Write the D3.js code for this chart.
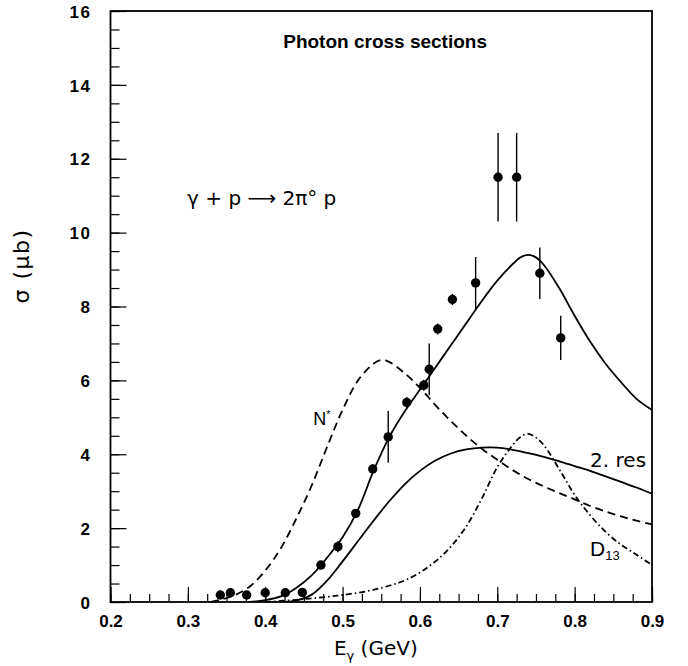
<!DOCTYPE html>
<html>
<head>
<meta charset="utf-8">
<script src="https://cdn.jsdelivr.net/npm/d3@7"></script>
<style>
  body { margin: 0; background: #fff; }
  svg { display: block; }
  .tick-lbl { font-family: "Liberation Sans", Arial, sans-serif; font-weight: bold; font-size: 17px; }
</style>
</head>
<body>
<svg id="chart" width="688" height="666"></svg>
<script>
// measured points (E in GeV, sigma in microbarn)
var dataE = [0.342, 0.355, 0.376, 0.400, 0.426, 0.448, 0.472, 0.494, 0.517, 0.539, 0.559,
             0.583, 0.605, 0.612, 0.623, 0.642, 0.672, 0.701, 0.725, 0.755, 0.782];
var dataSigma = [0.19, 0.25, 0.19, 0.25, 0.25, 0.26, 1.0, 1.5, 2.4, 3.6, 4.47,
                 5.4, 5.87, 6.3, 7.39, 8.19, 8.64, 11.5, 11.5, 8.9, 7.15];
var dataErr = [0.08, 0.08, 0.08, 0.08, 0.08, 0.08, 0.1, 0.15, 0.12, 0.12, 0.7,
               0.15, 0.15, 0.7, 0.15, 0.15, 0.7, 1.2, 1.2, 0.7, 0.6];

// model curves
var totalE = [0.38, 0.40, 0.42, 0.44, 0.46, 0.48, 0.50, 0.52, 0.54, 0.56, 0.58, 0.60, 0.62, 0.64,
              0.66, 0.68, 0.70, 0.72, 0.73, 0.74, 0.75, 0.76, 0.78, 0.80, 0.82, 0.84, 0.86, 0.88, 0.90];
var totalSigma = [0.0, 0.05, 0.15, 0.38, 0.72, 1.2, 1.75, 2.5, 3.55, 4.45, 5.15, 5.75, 6.35, 6.95,
                  7.55, 8.15, 8.7, 9.15, 9.33, 9.4, 9.33, 9.13, 8.5, 7.75, 7.05, 6.45, 5.95, 5.5, 5.2];

var nstarE = [0.33, 0.34, 0.36, 0.38, 0.40, 0.42, 0.44, 0.46, 0.48, 0.50, 0.52, 0.54, 0.55, 0.56,
              0.58, 0.60, 0.62, 0.64, 0.66, 0.68, 0.70, 0.72, 0.74, 0.76, 0.78, 0.80, 0.82,
              0.84, 0.86, 0.88, 0.90];
var nstarSigma = [0.0, 0.05, 0.18, 0.42, 0.85, 1.45, 2.25, 3.15, 4.2, 5.2, 6.0, 6.45, 6.55, 6.5,
                  6.2, 5.8, 5.33, 4.9, 4.5, 4.15, 3.85, 3.57, 3.33, 3.13, 2.95, 2.78, 2.6,
                  2.45, 2.32, 2.2, 2.1];

var resE = [0.42, 0.44, 0.46, 0.48, 0.50, 0.52, 0.54, 0.56, 0.58, 0.60, 0.62, 0.64, 0.66,
            0.68, 0.70, 0.72, 0.74, 0.76, 0.78, 0.80, 0.82, 0.84, 0.86, 0.88, 0.90];
var resSigma = [0.0, 0.04, 0.2, 0.58, 1.1, 1.65, 2.2, 2.72, 3.18, 3.55, 3.83, 4.02, 4.13,
                4.18, 4.18, 4.12, 4.03, 3.93, 3.81, 3.68, 3.55, 3.4, 3.25, 3.1, 2.93];

var d13E = [0.40, 0.44, 0.48, 0.50, 0.52, 0.54, 0.56, 0.58, 0.60, 0.62, 0.64, 0.66, 0.68,
            0.70, 0.72, 0.73, 0.74, 0.75, 0.76, 0.78, 0.80, 0.82, 0.84, 0.86, 0.88, 0.90];
var d13Sigma = [0.0, 0.06, 0.14, 0.19, 0.25, 0.33, 0.44, 0.58, 0.8, 1.1, 1.5, 2.05, 2.8,
                3.65, 4.25, 4.47, 4.55, 4.45, 4.25, 3.6, 2.9, 2.35, 1.9, 1.55, 1.28, 1.0];

var xTicks = [0.2, 0.3, 0.4, 0.5, 0.6, 0.7, 0.8, 0.9];
var yTicks = [0, 2, 4, 6, 8, 10, 12, 14, 16];

var svg = d3.select("#chart");
var plotL = 110.5, plotR = 652, plotT = 11, plotB = 602;

var x = d3.scaleLinear().domain([0.2, 0.9]).range([plotL, plotR]);
var y = d3.scaleLinear().domain([0, 16]).range([plotB, plotT]);

svg.append("clipPath").attr("id", "clip")
    .append("rect").attr("x", plotL).attr("y", plotT)
    .attr("width", plotR - plotL).attr("height", plotB - plotT);

// minor ticks
var xMinor = d3.range(0, 29).map(function (i) { return 0.2 + i * 0.025; });
var yMinor = d3.range(0, 33).map(function (i) { return i * 0.5; });

var xAxis = d3.axisBottom(x).tickValues(xTicks).tickSize(-15).tickPadding(0).tickFormat(d3.format(".1f"));
var yAxis = d3.axisLeft(y).tickValues(yTicks).tickSize(-16).tickPadding(0).tickFormat(d3.format("d"));

svg.append("g").attr("transform", "translate(0," + plotB + ")")
    .call(d3.axisBottom(x).tickValues(xMinor).tickSize(-8).tickFormat(""))
    .call(function (g) { g.select(".domain").remove(); g.selectAll("line").attr("stroke-width", 1.2); });
svg.append("g").attr("transform", "translate(" + plotL + ",0)")
    .call(d3.axisLeft(y).tickValues(yMinor).tickSize(-9).tickFormat(""))
    .call(function (g) { g.select(".domain").remove(); g.selectAll("line").attr("stroke-width", 1.2); });

var gx = svg.append("g").attr("transform", "translate(0," + plotB + ")").call(xAxis);
gx.select(".domain").remove();
gx.selectAll("line").attr("stroke-width", 1.2);
gx.selectAll("text").attr("class", "tick-lbl").attr("fill", "#000").attr("y", 24.5).attr("dy", 0);

var gy = svg.append("g").attr("transform", "translate(" + plotL + ",0)").call(yAxis);
gy.select(".domain").remove();
gy.selectAll("line").attr("stroke-width", 1.2);
gy.selectAll("text").attr("class", "tick-lbl").attr("fill", "#000")
    .attr("x", -19).attr("dy", "0.36em").style("letter-spacing", "1.5px");

// frame
svg.append("rect").attr("x", plotL).attr("y", plotT)
    .attr("width", plotR - plotL).attr("height", plotB - plotT)
    .attr("fill", "none").attr("stroke", "#000").attr("stroke-width", 1.8);

// curves
var line = d3.line()
    .x(function (d) { return x(d[0]); })
    .y(function (d) { return y(d[1]); })
    .curve(d3.curveCatmullRom.alpha(0.5));

var curves = [
    { e: totalE, s: totalSigma, dash: null },
    { e: nstarE, s: nstarSigma, dash: "8,5" },
    { e: resE, s: resSigma, dash: null },
    { e: d13E, s: d13Sigma, dash: "6,3,1.5,3" }
];
var gc = svg.append("g").attr("clip-path", "url(#clip)");
curves.forEach(function (c) {
    var pts = c.e.map(function (e, i) { return [e, c.s[i]]; });
    gc.append("path").datum(pts)
        .attr("d", line)
        .attr("fill", "none")
        .attr("stroke", "#000")
        .attr("stroke-width", 1.8)
        .attr("stroke-dasharray", c.dash);
});

// data points with error bars
var pts = dataE.map(function (e, i) { return { e: e, s: dataSigma[i], err: dataErr[i] }; });
svg.append("g").selectAll("line").data(pts).enter()
    .append("line")
    .attr("x1", function (d) { return x(d.e); })
    .attr("x2", function (d) { return x(d.e); })
    .attr("y1", function (d) { return y(d.s - d.err); })
    .attr("y2", function (d) { return y(d.s + d.err); })
    .attr("stroke", "#000").attr("stroke-width", 1.4);
svg.append("g").selectAll("circle").data(pts).enter()
    .append("circle")
    .attr("cx", function (d) { return x(d.e); })
    .attr("cy", function (d) { return y(d.s); })
    .attr("r", 4.7)
    .attr("fill", "#000");

// texts
svg.append("text").attr("x", x(0.555)).attr("y", y(15.0))
    .attr("text-anchor", "middle")
    .style("font-family", "Liberation Sans, Arial, sans-serif")
    .style("font-weight", "bold").style("font-size", "19px")
    .text("Photon cross sections");

svg.append("text").attr("x", x(0.299)).attr("y", y(10.75))
    .style("font-family", "DejaVu Sans, sans-serif")
    .style("font-size", "20px")
    .text("γ + p ⟶ 2π° p");

var nlab = svg.append("text").attr("x", x(0.462)).attr("y", y(4.79))
    .style("font-family", "Liberation Sans, Arial, sans-serif")
    .style("font-size", "18px");
nlab.append("tspan").text("N");
nlab.append("tspan").attr("dy", -7).style("font-size", "11px").text("*");

svg.append("text").attr("x", x(0.820)).attr("y", y(3.65))
    .style("font-family", "DejaVu Sans, sans-serif")
    .style("font-size", "20px")
    .text("2. res");

var dlab = svg.append("text").attr("x", x(0.820)).attr("y", y(1.25))
    .style("font-family", "Liberation Sans, Arial, sans-serif")
    .style("font-size", "21px");
dlab.append("tspan").text("D");
dlab.append("tspan").attr("dy", 4).style("font-size", "13px").text("13");

var xl = svg.append("text").attr("x", x(0.543)).attr("y", 655)
    .attr("text-anchor", "middle")
    .style("font-family", "DejaVu Sans, sans-serif")
    .style("font-size", "20px");
xl.append("tspan").text("E");
xl.append("tspan").attr("dy", 5).style("font-size", "13px").text("γ");
xl.append("tspan").attr("dy", -5).text(" (GeV)");

svg.append("text")
    .attr("transform", "translate(29,266) rotate(-90)")
    .attr("text-anchor", "middle")
    .style("font-family", "DejaVu Sans, sans-serif")
    .style("font-size", "22px")
    .style("letter-spacing", "1.5px")
    .text("σ (μb)");
</script>
</body>
</html>
